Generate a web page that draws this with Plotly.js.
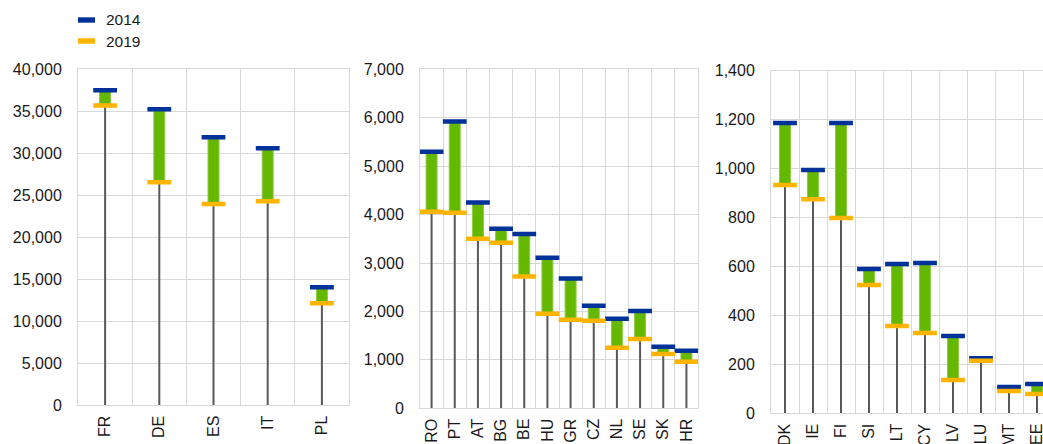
<!DOCTYPE html>
<html><head><meta charset="utf-8">
<script src="https://cdn.plot.ly/plotly-3.0.1.min.js"></script>
<style>html,body{margin:0;padding:0;overflow:hidden;background:#fff}</style>
</head><body><div id="chart" style="width:1043px;height:444px"></div>
<script>
const cats1 = ['FR','DE','ES','IT','PL'];
const v2014_1 = [37500,35250,31900,30600,14050];
const v2019_1 = [35700,26550,23950,24300,12150];

const cats2 = ['RO','PT','AT','BG','BE','HU','GR','CZ','NL','SE','SK','HR'];
const v2014_2 = [5300,5920,4250,3710,3600,3110,2680,2120,1850,2010,1270,1190];
const v2019_2 = [4060,4040,3500,3420,2720,1950,1830,1810,1250,1430,1120,960];

const cats3 = ['DK','IE','FI','SI','LT','CY','LV','LU','MT','EE'];
const v2014_3 = [1186,994,1186,590,610,614,316,225,107,120];
const v2019_3 = [933,875,798,524,357,328,136,215,91,79];

const yMax = [40000,7000,1400];
const yStep = [5000,1000,200];
const seriesNames = ['2014','2019'];

const W = 1043, H = 444;
const BLUE = '#003299', ORANGE = '#FFB400', GREEN = '#65B800', STEM = '#595959', GRID = '#D9D9D9';
const FONT = 'Arimo, "Liberation Sans", Arial, sans-serif';
const TXT = '#1a1a1a';

// panel geometry in pixels: [left, right, bottom(0), top(max)]
const geo = [
  [78, 349, 405.3, 69.3],
  [420, 698, 408.3, 69.3],
  [771, 1051, 413.3, 70.7]
];
const panels = [
  {cats: cats1, a: v2014_1, b: v2019_1},
  {cats: cats2, a: v2014_2, b: v2019_2},
  {cats: cats3, a: v2014_3, b: v2019_3}
];

const traces = [];
const layout = {
  width: W, height: H,
  margin: {l:0, r:0, t:0, b:0},
  paper_bgcolor: '#fff', plot_bgcolor: '#fff',
  font: {family: FONT, size: 16, color: TXT},
  showlegend: false,
  bargap: 0,
  shapes: [], annotations: []
};

// legend drawn manually (symbol + label) to match reference spacing
const legendColors = [BLUE, ORANGE];
const legendY = [20, 41];
seriesNames.forEach((nm, k) => {
  layout.shapes.push({type: 'rect', xref: 'paper', yref: 'paper',
    x0: 78 / W, x1: 95 / W, y0: 1 - (legendY[k] + 2.7) / H, y1: 1 - (legendY[k] - 2.7) / H,
    fillcolor: legendColors[k], line: {width: 0}});
  layout.annotations.push({xref: 'paper', yref: 'paper', x: 104 / W, y: 1 - legendY[k] / H,
    xanchor: 'left', yanchor: 'middle', text: nm, showarrow: false,
    font: {size: 15.5, color: TXT, family: FONT}});
});

panels.forEach((p, i) => {
  const n = i + 1;
  const xa = 'x' + (n === 1 ? '' : n), ya = 'y' + (n === 1 ? '' : n);
  const g = geo[i];
  const catPx = (g[1] - g[0]) / p.cats.length;
  const right = Math.min(g[1], W);
  const rangeEnd = -0.5 + (right - g[0]) / catPx;

  traces.push({
    type: 'scatter', mode: 'lines', xaxis: xa, yaxis: ya, hoverinfo: 'skip',
    x: p.cats.flatMap(c => [c, c, null]),
    y: p.b.flatMap(v => [0, v, null]),
    line: {color: STEM, width: 2}
  });
  traces.push({
    type: 'bar', xaxis: xa, yaxis: ya, hoverinfo: 'skip',
    x: p.cats, base: p.b, y: p.a.map((v, k) => v - p.b[k]),
    width: 11 / catPx,
    marker: {color: GREEN, line: {color: '#8FCB45', width: 1}}
  });
  traces.push({
    type: 'scatter', mode: 'markers', xaxis: xa, yaxis: ya, name: seriesNames[0], hoverinfo: 'skip',
    x: p.cats, y: p.a,
    marker: {symbol: 'line-ew', size: 17, color: BLUE, line: {color: BLUE, width: 4.5}}
  });
  traces.push({
    type: 'scatter', mode: 'markers', xaxis: xa, yaxis: ya, name: seriesNames[1], hoverinfo: 'skip',
    x: p.cats, y: p.b,
    marker: {symbol: 'line-ew', size: 17, color: ORANGE, line: {color: ORANGE, width: 4.5}}
  });

  layout['xaxis' + (n === 1 ? '' : n)] = {
    type: 'category', categoryorder: 'array', categoryarray: p.cats,
    domain: [g[0] / W, right / W], range: [-0.5, rangeEnd],
    anchor: ya, tickson: 'boundaries', showgrid: true, gridcolor: GRID, gridwidth: 1,
    showline: true, mirror: true, linecolor: GRID, linewidth: 1,
    ticks: '', tickangle: -90, ticklabelstandoff: 3, fixedrange: true,
    tickfont: {size: 16}
  };
  layout['yaxis' + (n === 1 ? '' : n)] = {
    domain: [1 - g[2] / H, 1 - g[3] / H], range: [0, yMax[i]], dtick: yStep[i], tick0: 0,
    anchor: xa, tickformat: ',d', showgrid: true, gridcolor: GRID, gridwidth: 1, zeroline: false,
    showline: true, mirror: true, linecolor: GRID, linewidth: 1,
    ticks: '', ticklabelstandoff: 12, fixedrange: true,
    tickfont: {size: 16}
  };
});

Plotly.newPlot('chart', traces, layout, {staticPlot: true, displayModeBar: false});
</script></body></html>
